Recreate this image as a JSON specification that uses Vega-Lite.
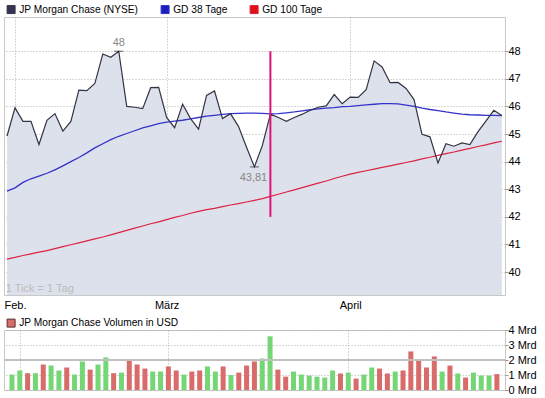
{
  "$schema": "https://vega.github.io/schema/vega-lite/v6.json",
  "background": "white",
  "padding": {"left": 3, "top": 3, "right": 0, "bottom": 0},
  "config": {
    "font": "Liberation Sans",
    "view": {"stroke": "#c8c8c8"},
    "axis": {"labelFont": "Liberation Sans", "labelFontSize": 11, "labelColor": "#000000", "tickColor": "#999999", "gridColor": "#b0b0b0", "gridDash": [1, 2], "labelOverlap": false},
    "axisY": {"labelOverlap": false},
    "axisRight": {"labelOverlap": false},
    "legend": {"labelFont": "Liberation Sans", "labelFontSize": 10.2, "labelColor": "#000000", "labelLimit": 0}
  },
  "datasets": {
    "d": [
      {"i": 0, "price": 44.93, "ma38": 42.93, "ma100": 40.47, "vol": 1.03, "dir": "auf"},
      {"i": 1, "price": 45.95, "ma38": 43.05, "ma100": 40.53, "vol": 1.30, "dir": "auf"},
      {"i": 2, "price": 45.46, "ma38": 43.25, "ma100": 40.60, "vol": 1.12, "dir": "ab"},
      {"i": 3, "price": 45.46, "ma38": 43.38, "ma100": 40.66, "vol": 1.12, "dir": "auf"},
      {"i": 4, "price": 44.62, "ma38": 43.48, "ma100": 40.72, "vol": 1.70, "dir": "ab"},
      {"i": 5, "price": 45.50, "ma38": 43.58, "ma100": 40.78, "vol": 1.63, "dir": "auf"},
      {"i": 6, "price": 45.74, "ma38": 43.70, "ma100": 40.85, "vol": 1.30, "dir": "auf"},
      {"i": 7, "price": 45.11, "ma38": 43.85, "ma100": 40.92, "vol": 1.50, "dir": "ab"},
      {"i": 8, "price": 45.46, "ma38": 44.00, "ma100": 40.99, "vol": 1.03, "dir": "auf"},
      {"i": 9, "price": 46.59, "ma38": 44.15, "ma100": 41.06, "vol": 1.90, "dir": "auf"},
      {"i": 10, "price": 46.57, "ma38": 44.32, "ma100": 41.13, "vol": 1.36, "dir": "ab"},
      {"i": 11, "price": 46.83, "ma38": 44.50, "ma100": 41.20, "vol": 1.70, "dir": "auf"},
      {"i": 12, "price": 47.90, "ma38": 44.65, "ma100": 41.27, "vol": 2.17, "dir": "auf"},
      {"i": 13, "price": 47.78, "ma38": 44.80, "ma100": 41.35, "vol": 1.12, "dir": "ab"},
      {"i": 14, "price": 48.00, "ma38": 44.92, "ma100": 41.43, "vol": 1.16, "dir": "auf"},
      {"i": 15, "price": 46.00, "ma38": 45.02, "ma100": 41.51, "vol": 2.01, "dir": "ab"},
      {"i": 16, "price": 45.97, "ma38": 45.12, "ma100": 41.59, "vol": 1.70, "dir": "ab"},
      {"i": 17, "price": 45.92, "ma38": 45.22, "ma100": 41.67, "vol": 1.43, "dir": "ab"},
      {"i": 18, "price": 46.68, "ma38": 45.30, "ma100": 41.75, "vol": 1.23, "dir": "auf"},
      {"i": 19, "price": 46.69, "ma38": 45.38, "ma100": 41.82, "vol": 1.23, "dir": "auf"},
      {"i": 20, "price": 45.60, "ma38": 45.43, "ma100": 41.90, "vol": 1.57, "dir": "ab"},
      {"i": 21, "price": 45.23, "ma38": 45.47, "ma100": 41.98, "vol": 1.30, "dir": "ab"},
      {"i": 22, "price": 46.08, "ma38": 45.50, "ma100": 42.05, "vol": 1.03, "dir": "auf"},
      {"i": 23, "price": 45.56, "ma38": 45.55, "ma100": 42.13, "vol": 1.23, "dir": "ab"},
      {"i": 24, "price": 45.18, "ma38": 45.60, "ma100": 42.20, "vol": 1.30, "dir": "ab"},
      {"i": 25, "price": 46.40, "ma38": 45.65, "ma100": 42.26, "vol": 1.57, "dir": "auf"},
      {"i": 26, "price": 46.56, "ma38": 45.68, "ma100": 42.31, "vol": 1.23, "dir": "auf"},
      {"i": 27, "price": 45.56, "ma38": 45.71, "ma100": 42.37, "vol": 1.57, "dir": "ab"},
      {"i": 28, "price": 45.74, "ma38": 45.74, "ma100": 42.43, "vol": 1.00, "dir": "auf"},
      {"i": 29, "price": 45.28, "ma38": 45.75, "ma100": 42.48, "vol": 1.16, "dir": "ab"},
      {"i": 30, "price": 44.53, "ma38": 45.76, "ma100": 42.54, "vol": 1.63, "dir": "ab"},
      {"i": 31, "price": 43.81, "ma38": 45.76, "ma100": 42.60, "vol": 1.90, "dir": "ab"},
      {"i": 32, "price": 44.59, "ma38": 45.75, "ma100": 42.66, "vol": 2.10, "dir": "auf"},
      {"i": 33, "price": 45.72, "ma38": 45.73, "ma100": 42.74, "vol": 3.58, "dir": "auf"},
      {"i": 34, "price": 45.60, "ma38": 45.74, "ma100": 42.82, "vol": 1.36, "dir": "ab"},
      {"i": 35, "price": 45.46, "ma38": 45.77, "ma100": 42.90, "vol": 0.89, "dir": "ab"},
      {"i": 36, "price": 45.60, "ma38": 45.80, "ma100": 42.98, "vol": 1.23, "dir": "auf"},
      {"i": 37, "price": 45.72, "ma38": 45.84, "ma100": 43.06, "vol": 1.03, "dir": "auf"},
      {"i": 38, "price": 45.86, "ma38": 45.88, "ma100": 43.14, "vol": 0.96, "dir": "auf"},
      {"i": 39, "price": 45.97, "ma38": 45.91, "ma100": 43.22, "vol": 0.89, "dir": "auf"},
      {"i": 40, "price": 46.02, "ma38": 45.94, "ma100": 43.30, "vol": 0.83, "dir": "auf"},
      {"i": 41, "price": 46.43, "ma38": 45.96, "ma100": 43.39, "vol": 1.30, "dir": "auf"},
      {"i": 42, "price": 46.10, "ma38": 45.99, "ma100": 43.47, "vol": 1.10, "dir": "ab"},
      {"i": 43, "price": 46.34, "ma38": 46.00, "ma100": 43.55, "vol": 1.16, "dir": "auf"},
      {"i": 44, "price": 46.33, "ma38": 46.03, "ma100": 43.61, "vol": 0.76, "dir": "ab"},
      {"i": 45, "price": 46.61, "ma38": 46.06, "ma100": 43.67, "vol": 1.03, "dir": "auf"},
      {"i": 46, "price": 47.65, "ma38": 46.08, "ma100": 43.73, "vol": 1.50, "dir": "auf"},
      {"i": 47, "price": 47.43, "ma38": 46.10, "ma100": 43.79, "vol": 1.43, "dir": "ab"},
      {"i": 48, "price": 46.86, "ma38": 46.10, "ma100": 43.85, "vol": 1.10, "dir": "ab"},
      {"i": 49, "price": 46.87, "ma38": 46.09, "ma100": 43.91, "vol": 1.23, "dir": "auf"},
      {"i": 50, "price": 46.65, "ma38": 46.05, "ma100": 43.97, "vol": 1.30, "dir": "ab"},
      {"i": 51, "price": 46.25, "ma38": 46.00, "ma100": 44.03, "vol": 2.57, "dir": "ab"},
      {"i": 52, "price": 44.99, "ma38": 45.94, "ma100": 44.10, "vol": 2.04, "dir": "ab"},
      {"i": 53, "price": 44.90, "ma38": 45.89, "ma100": 44.16, "vol": 1.50, "dir": "ab"},
      {"i": 54, "price": 43.95, "ma38": 45.85, "ma100": 44.23, "vol": 2.24, "dir": "ab"},
      {"i": 55, "price": 44.65, "ma38": 45.80, "ma100": 44.29, "vol": 1.23, "dir": "auf"},
      {"i": 56, "price": 44.56, "ma38": 45.76, "ma100": 44.35, "vol": 1.63, "dir": "ab"},
      {"i": 57, "price": 44.68, "ma38": 45.72, "ma100": 44.42, "vol": 1.10, "dir": "auf"},
      {"i": 58, "price": 44.62, "ma38": 45.70, "ma100": 44.48, "vol": 0.83, "dir": "ab"},
      {"i": 59, "price": 45.08, "ma38": 45.69, "ma100": 44.55, "vol": 1.16, "dir": "auf"},
      {"i": 60, "price": 45.47, "ma38": 45.68, "ma100": 44.61, "vol": 0.96, "dir": "auf"},
      {"i": 61, "price": 45.86, "ma38": 45.68, "ma100": 44.68, "vol": 0.96, "dir": "auf"},
      {"i": 62, "price": 45.67, "ma38": 45.67, "ma100": 44.74, "vol": 1.06, "dir": "ab"}
    ],
    "ext": [
      {"i": 14, "price": 48.0, "lbl": "48", "typ": "max"},
      {"i": 31, "price": 43.81, "lbl": "43,81", "typ": "min"}
    ],
    "mk": [{"i": 33, "lo": 42, "hi": 48}],
    "note": [{"i": -0.15, "price": 39.38, "txt": "1 Tick = 1 Tag"}]
  },
  "spacing": 6,
  "resolve": {"scale": {"color": "independent", "y": "independent", "x": "independent"}, "legend": {"color": "independent"}},
  "vconcat": [
    {
      "width": 501,
      "height": 278,
      "encoding": {
        "x": {"field": "i", "type": "quantitative", "title": null,
          "scale": {"domain": [-0.38, 62.4], "nice": false, "zero": false},
          "axis": {"values": [1, 20, 43], "labelExpr": "datum.value == 1 ? 'Feb.' : datum.value == 20 ? 'März' : 'April'", "ticks": false, "domain": false, "grid": true, "labelPadding": 4, "labelAlign": "center", "labelOverlap": false, "labelFlush": false}}
      },
      "layer": [
        {
          "data": {"name": "d"},
          "mark": {"type": "area", "color": "#dde1eb", "clip": true},
          "encoding": {
            "y": {"field": "price", "type": "quantitative", "title": null,
              "scale": {"domain": [39.17, 49.24], "nice": false, "zero": false},
              "axis": {"orient": "right", "values": [40, 41, 42, 43, 44, 45, 46, 47, 48], "tickCount": 9, "grid": true, "domain": false, "tickSize": 3, "labelPadding": 0, "labelOverlap": false, "labelSeparation": 0, "labelFlush": false}}
          }
        },
        {
          "data": {"name": "d"},
          "mark": {"type": "line", "strokeWidth": 1.2, "clip": true},
          "encoding": {
            "y": {"field": "ma100", "type": "quantitative", "title": null,
              "axis": {"orient": "right", "values": [40, 41, 42, 43, 44, 45, 46, 47, 48], "tickCount": 9, "grid": true, "domain": false, "tickSize": 3, "labelPadding": 0, "labelOverlap": false, "labelSeparation": 0, "labelFlush": false}},
            "color": {"datum": "GD 100 Tage",
              "scale": {"domain": ["JP Morgan Chase (NYSE)", "GD 38 Tage", "GD 100 Tage"], "range": ["#333344", "#3333cc", "#dd2244"]},
              "legend": {"orient": "none", "legendX": 2, "legendY": -13, "direction": "horizontal", "title": null, "symbolType": "square", "symbolSize": 64, "columnPadding": 20, "labelOffset": 3,
                "encode": {"symbols": {"update": {"fill": {"signal": "datum.value === 'GD 38 Tage' ? '#1f1fc0' : datum.value === 'GD 100 Tage' ? '#e01010' : '#333355'"}, "stroke": {"value": "#222233"}, "strokeWidth": {"value": 1}, "opacity": {"value": 1}}}}}}
          }
        },
        {
          "data": {"name": "d"},
          "mark": {"type": "line", "strokeWidth": 1.3, "clip": true},
          "encoding": {
            "y": {"field": "ma38", "type": "quantitative", "title": null,
              "axis": {"orient": "right", "values": [40, 41, 42, 43, 44, 45, 46, 47, 48], "tickCount": 9, "grid": true, "domain": false, "tickSize": 3, "labelPadding": 0, "labelOverlap": false, "labelSeparation": 0, "labelFlush": false}},
            "color": {"datum": "GD 38 Tage"}
          }
        },
        {
          "data": {"name": "d"},
          "mark": {"type": "line", "strokeWidth": 1.2, "clip": true},
          "encoding": {
            "y": {"field": "price", "type": "quantitative", "title": null,
              "axis": {"orient": "right", "values": [40, 41, 42, 43, 44, 45, 46, 47, 48], "tickCount": 9, "grid": true, "domain": false, "tickSize": 3, "labelPadding": 0, "labelOverlap": false, "labelSeparation": 0, "labelFlush": false}},
            "color": {"datum": "JP Morgan Chase (NYSE)"}
          }
        },
        {
          "data": {"name": "mk"},
          "mark": {"type": "rule", "color": "#e0107a", "strokeWidth": 2},
          "encoding": {
            "y": {"field": "lo", "type": "quantitative", "title": null},
            "y2": {"field": "hi"}
          }
        },
        {
          "data": {"name": "ext"},
          "mark": {"type": "tick", "orient": "horizontal", "size": 9, "thickness": 1, "color": "#222222"},
          "encoding": {
            "y": {"field": "price", "type": "quantitative", "title": null}
          }
        },
        {
          "data": {"name": "ext"},
          "transform": [{"filter": "datum.typ == 'max'"}],
          "mark": {"type": "text", "color": "#888888", "fontSize": 11, "dy": -8, "baseline": "middle"},
          "encoding": {
            "y": {"field": "price", "type": "quantitative", "title": null},
            "text": {"field": "lbl"}
          }
        },
        {
          "data": {"name": "ext"},
          "transform": [{"filter": "datum.typ == 'min'"}],
          "mark": {"type": "text", "color": "#888888", "fontSize": 11, "dy": 11, "dx": -1, "baseline": "middle"},
          "encoding": {
            "y": {"field": "price", "type": "quantitative", "title": null},
            "text": {"field": "lbl"}
          }
        },
        {
          "data": {"name": "note"},
          "mark": {"type": "text", "color": "#bbbbbb", "fontSize": 11, "align": "left", "baseline": "middle"},
          "encoding": {
            "y": {"field": "price", "type": "quantitative", "title": null},
            "text": {"field": "txt"}
          }
        }
      ]
    },
    {
      "width": 501,
      "height": 60,
      "data": {"name": "d"},
      "encoding": {
        "x": {"field": "i", "type": "quantitative", "title": null,
          "scale": {"domain": [-0.38, 62.4], "nice": false, "zero": false},
          "axis": {"values": [1, 20, 43], "labels": false, "ticks": false, "domain": false, "grid": true}}
      },
      "layer": [
        {
          "mark": {"type": "bar", "width": 5},
          "encoding": {
            "y": {"field": "vol", "type": "quantitative", "title": null,
              "scale": {"domain": [0, 4], "nice": false},
              "axis": {"orient": "right", "values": [0, 1, 2, 3, 4], "tickCount": 5, "grid": true, "domain": false, "tickSize": 3, "labelPadding": 0, "labelOverlap": false, "labelSeparation": 0, "labelFlush": false, "labelExpr": "datum.value + ' Mrd'"}},
            "color": {"field": "dir", "type": "nominal",
              "scale": {"domain": ["auf", "ab"], "range": ["#74d674", "#d96b6b"]},
              "legend": {"values": ["ab"], "labelExpr": "'JP Morgan Chase Volumen in USD'", "orient": "none", "legendX": 2, "legendY": -12, "title": null, "symbolType": "square", "symbolSize": 64, "labelOffset": 3, "symbolStrokeColor": "#553333", "symbolStrokeWidth": 1}}
          }
        },
        {
          "mark": {"type": "rule", "color": "#c0c0c0", "strokeWidth": 1},
          "encoding": {"x": null, "y": {"datum": 2}}
        }
      ]
    }
  ]
}
